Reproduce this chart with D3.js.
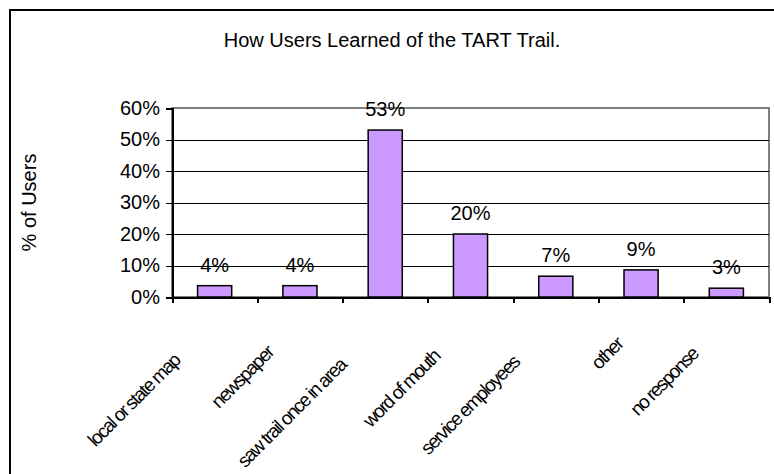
<!DOCTYPE html>
<html lang="en">
<head>
    <meta charset="UTF-8">
    <title>How Users Learned of the TART Trail</title>
    <script src="https://d3js.org/d3.v7.min.js"></script>
    <style>
        body { margin: 0; background: #fff; }
        svg text { font-family: "Liberation Sans", Arial, sans-serif; fill: #000; }
        .axis path, .axis line { stroke: #000; shape-rendering: crispEdges; }
        .axis text { font-size: 20px; }
    </style>
</head>
<body>

<svg></svg>

<script>
    var categories = ["local or state map", "newspaper", "saw trail once in area", "word of mouth",
                      "service employees", "other", "no response"];
    var shares = [0.036, 0.036, 0.53, 0.20, 0.066, 0.086, 0.028];
    var yTicks = [0, 0.1, 0.2, 0.3, 0.4, 0.5, 0.6];

    var w = 774, h = 474;
    var padding = { top: 108, right: 5, bottom: 177, left: 172 };

    var svg = d3.select("svg")
        .attr("width", w)
        .attr("height", h);

    // outer chart frame, runs off the right and bottom edge like the original
    svg.append("rect")
        .attr("x", 10).attr("y", 10)
        .attr("width", 800).attr("height", 500)
        .attr("fill", "none")
        .attr("stroke", "#000")
        .attr("stroke-width", 2);

    var x = d3.scaleBand()
        .domain(categories)
        .range([padding.left, w - padding.right])
        .paddingInner(0.6)
        .paddingOuter(0.3);

    // category boundaries for the tick marks
    var xEdge = d3.scaleLinear()
        .domain([0, categories.length])
        .range([padding.left, w - padding.right]);

    var y = d3.scaleLinear()
        .domain([0, 0.6])
        .range([h - padding.bottom, padding.top]);

    // plot area border (grey)
    svg.append("rect")
        .attr("x", padding.left)
        .attr("y", y(0.6))
        .attr("width", w - padding.right - padding.left)
        .attr("height", y(0) - y(0.6))
        .attr("fill", "none")
        .attr("stroke", "#808080")
        .attr("stroke-width", 2);

    // gridlines
    svg.append("g")
        .selectAll("line")
        .data(yTicks.filter(d => d > 0 && d < 0.6))
        .enter().append("line")
        .attr("x1", padding.left)
        .attr("x2", w - padding.right)
        .attr("y1", d => Math.round(y(d)) + 0.5)
        .attr("y2", d => Math.round(y(d)) + 0.5)
        .attr("stroke", "#000")
        .attr("stroke-width", 1);

    // bars
    svg.append("g")
        .selectAll("rect")
        .data(shares)
        .enter().append("rect")
        .attr("x", (d, i) => x(categories[i]))
        .attr("y", d => y(d))
        .attr("width", x.bandwidth())
        .attr("height", d => y(0) - y(d))
        .attr("fill", "#CC99FF")
        .attr("stroke", "#000")
        .attr("stroke-width", 1.5);

    // value labels
    svg.append("g")
        .selectAll("text")
        .data(shares)
        .enter().append("text")
        .attr("x", (d, i) => x(categories[i]) + x.bandwidth() / 2)
        .attr("y", d => y(d) - 14)
        .attr("text-anchor", "middle")
        .style("font-size", "20px")
        .text(d => Math.round(d * 100) + "%");

    var yAxis = d3.axisLeft(y)
        .tickValues(yTicks)
        .tickFormat(d3.format(".0%"))
        .tickSize(6)
        .tickPadding(6);

    svg.append("g")
        .attr("class", "y axis")
        .attr("transform", "translate(" + padding.left + ",0)")
        .call(yAxis)
        .call(g => g.select(".domain").attr("stroke-width", 2));

    var xAxis = d3.axisBottom(xEdge)
        .tickValues(d3.range(categories.length + 1))
        .tickFormat("")
        .tickSize(6)
        .tickSizeOuter(0);

    svg.append("g")
        .attr("class", "x axis")
        .attr("transform", "translate(0," + y(0) + ")")
        .call(xAxis)
        .call(g => g.select(".domain").attr("stroke-width", 2))
        .call(g => g.selectAll(".tick line").attr("stroke-width", 2));

    // rotated category labels, centred on a 45 degree line below each category
    svg.append("g")
        .selectAll("text")
        .data(categories)
        .enter().append("text")
        .attr("text-anchor", "middle")
        .attr("dy", "0.35em")
        .style("font-size", "19px")
        .style("letter-spacing", "-1.6px")
        .text(d => d)
        .attr("transform", function(d) {
            var len = this.getComputedTextLength();
            var t = 37 + 0.545 * len;
            var cx = x(d) + x.bandwidth() / 2;
            return "translate(" + (cx + 22 - t) + "," + (y(0) + t) + ") rotate(-45)";
        });

    svg.append("text")
        .attr("x", 392)
        .attr("y", 47)
        .attr("text-anchor", "middle")
        .style("font-size", "20px")
        .text("How Users Learned of the TART Trail.");

    svg.append("text")
        .attr("transform", "translate(36," + ((y(0) + y(0.6)) / 2) + ") rotate(-90)")
        .attr("text-anchor", "middle")
        .style("font-size", "20px")
        .text("% of Users");
</script>

</body>
</html>
